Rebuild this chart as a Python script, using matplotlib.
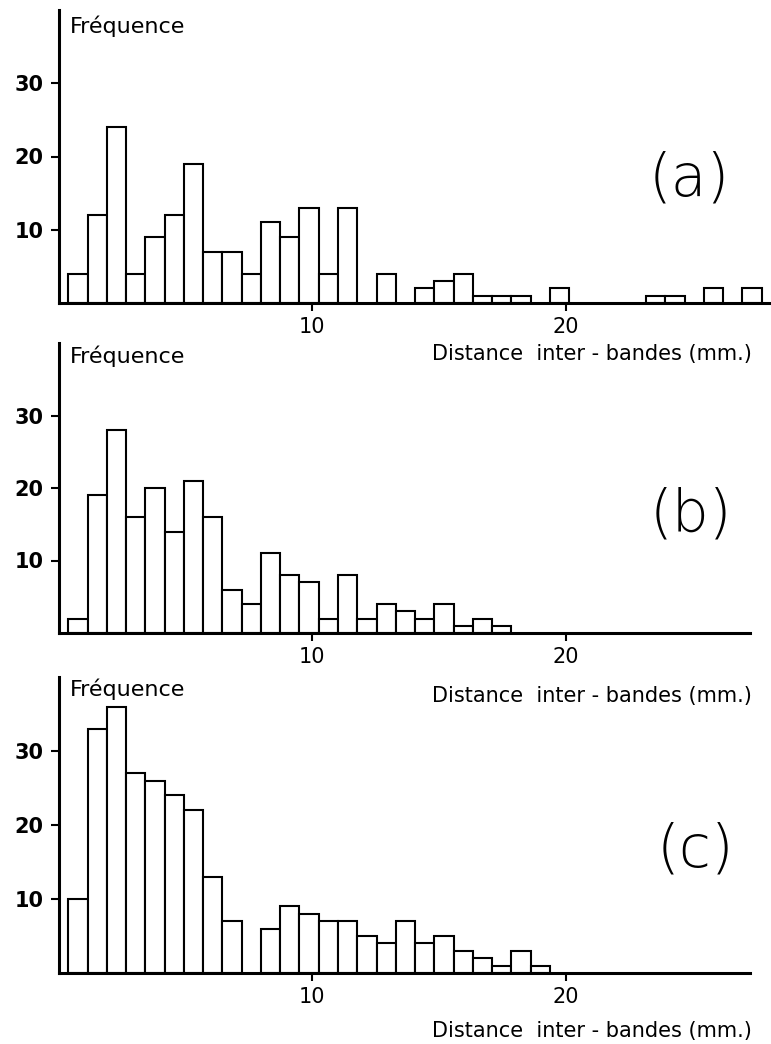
import numpy as np
import matplotlib
matplotlib.use('Agg')
import matplotlib.pyplot as plt

# counts per class of 0.76 mm
freq_a = [4, 12, 24, 4, 9, 12, 19, 7, 7, 4, 11, 9, 13, 4, 13, 0, 4, 0,
          2, 3, 4, 1, 1, 1, 0, 2, 0, 0, 0, 0, 1, 1, 0, 2, 0, 2]
freq_b = [2, 19, 28, 16, 20, 14, 21, 16, 6, 4, 11, 8, 7, 2, 8, 2, 4, 3,
          2, 4, 1, 2, 1]
freq_c = [10, 33, 36, 27, 26, 24, 22, 13, 7, 0, 6, 9, 8, 7, 7, 5, 4, 7,
          4, 5, 3, 2, 1, 3, 1]
panel_labels = ['(a)', '(b)', '(c)']
yticks = [10, 20, 30]
xticks = [10, 20]

BIN_START = 0.37
BIN_WIDTH = 0.76

W, H = 771, 1044
PX_PER_MM = 25.34

fig = plt.figure(figsize=(W / 100, H / 100), dpi=100)
plt.rcParams['font.family'] = 'DejaVu Sans'


def px_rect(left, top, right, bottom):
    return [left / W, 1 - bottom / H, (right - left) / W, (bottom - top) / H]


# pixel boxes of each axes: left, top, right, baseline
boxes = [(59, 10, 770, 303), (59, 343, 750, 633), (59, 677, 750, 973)]
label_pos = [(689, 179), (691, 515), (695, 850)]
freq_y = [33, 363, 696]
dist_y = [360, 702, 1037]

for freq, box, lab, lpos, fy, dy in zip([freq_a, freq_b, freq_c], boxes,
                                         panel_labels, label_pos, freq_y, dist_y):
    ax = fig.add_axes(px_rect(*box))
    counts = np.array(freq, dtype=float)
    left = BIN_START + BIN_WIDTH * np.arange(len(counts))
    keep = counts > 0
    ax.bar(left[keep], counts[keep], width=BIN_WIDTH, align='edge',
           facecolor='white', edgecolor='black', linewidth=1.5, zorder=2)

    ax.set_xlim(0, (box[2] - box[0]) / PX_PER_MM)
    ax.set_ylim(0, 40)
    for s in ['top', 'right']:
        ax.spines[s].set_visible(False)
    for s in ['left', 'bottom']:
        ax.spines[s].set_linewidth(2.2)
        ax.spines[s].set_zorder(3)
    ax.set_yticks(yticks)
    ax.set_yticklabels([str(t) for t in yticks], fontsize=15, fontweight='bold')
    ax.set_xticks(xticks)
    ax.set_xticklabels([str(t) for t in xticks], fontsize=15)
    ax.tick_params(axis='y', direction='out', length=6, width=1.5, pad=5)
    ax.tick_params(axis='x', direction='out', length=6, width=1.5, pad=4)
    ax.patch.set_alpha(0)

    fig.text(70 / W, 1 - fy / H, 'Fréquence', fontsize=16,
             ha='left', va='baseline')
    fig.text(752 / W, 1 - dy / H, 'Distance  inter - bandes (mm.)', fontsize=15,
             ha='right', va='baseline')
    fig.text(lpos[0] / W, 1 - lpos[1] / H, lab, fontsize=42, fontweight='light',
             ha='center', va='center')

fig.savefig('out.png', dpi=100)
